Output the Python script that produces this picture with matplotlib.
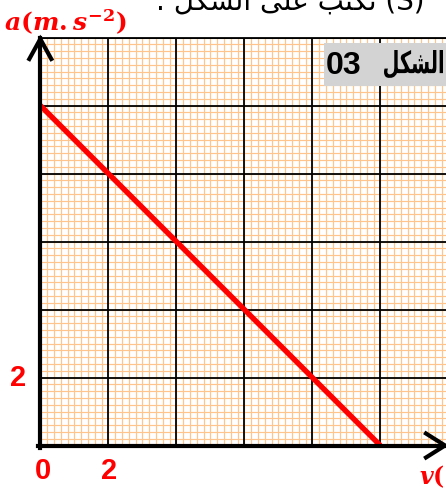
import matplotlib
matplotlib.use("Agg")
import matplotlib.pyplot as plt
import numpy as np
from matplotlib.lines import Line2D
from matplotlib.patches import Rectangle, PathPatch
from matplotlib.textpath import TextPath
from matplotlib.font_manager import FontProperties
from matplotlib.transforms import Affine2D, IdentityTransform

# data: acceleration as a function of speed
v_values = [0, 10]
a_values = [10, 0]
x_tick_values = [0, 2]
x_tick_labels = ["0", "2"]
y_tick_values = [2]
y_tick_labels = ["2"]

W, H = 446, 497
fig = plt.figure(figsize=(W / 100, H / 100), dpi=100)
fig.patch.set_facecolor("white")

plt.rcParams["mathtext.fontset"] = "custom"
plt.rcParams["mathtext.it"] = "DejaVu Serif:italic:bold"
plt.rcParams["mathtext.rm"] = "DejaVu Serif:bold"


def px(x, y):
    """pixel position (from top-left) -> figure fraction"""
    return x / W, 1 - y / H


ox, oy = 40.3, 445.5      # origin in pixels
unit = 34.0               # pixels per unit
xmax = (W - ox) / unit
ymax = 12

ax = fig.add_axes([ox / W, (H - oy) / H, (W - ox) / W, ymax * unit / H])
ax.set_xlim(0, xmax)
ax.set_ylim(0, ymax)

# millimetre paper grid
minor = np.arange(0, 14, 0.2)
for m in minor:
    ax.axvline(m, color="#FFC48C", lw=0.85, zorder=1)
    ax.axhline(m, color="#FFC48C", lw=0.85, zorder=1)
for M in np.arange(2, 14, 2):
    ax.axvline(M, color="black", lw=1.3, zorder=2)
    ax.axhline(M, color="black", lw=1.3, zorder=2)

ax.set_xticks([])
ax.set_yticks([])
for s in ["left", "bottom", "right"]:
    ax.spines[s].set_visible(False)
ax.spines["top"].set_linewidth(1.3)

# the line a(v)
ax.plot(v_values, a_values, color="#FF0000", lw=3.9, solid_capstyle="butt",
        zorder=6, clip_on=False)

# axes with arrow heads
lw_axis = 3.0
fig.add_artist(Line2D(*zip(px(ox, oy + 2), px(ox, 38)), color="black", lw=lw_axis, zorder=5))
fig.add_artist(Line2D(*zip(px(ox - 2, oy), px(W, oy)), color="black", lw=lw_axis, zorder=5))
ya = [px(ox - 11, 59), px(ox, 39), px(ox + 11, 59)]
fig.add_artist(Line2D([p[0] for p in ya], [p[1] for p in ya], color="black", lw=lw_axis,
                      solid_joinstyle="miter", zorder=5))
xa = [px(426, oy - 12), px(445, oy), px(426, oy + 12)]
fig.add_artist(Line2D([p[0] for p in xa], [p[1] for p in xa], color="black", lw=lw_axis,
                      solid_joinstyle="miter", zorder=5))

# tick labels
lab = dict(color="#FF0000", fontsize=21, fontweight="bold", family="Liberation Sans",
           ha="center", va="center")
for val, t in zip(x_tick_values, x_tick_labels):
    xpix = ox + val * unit + (3 if val == 0 else 1)
    fig.text(*px(xpix, 471), t, **lab)
for val, t in zip(y_tick_values, y_tick_labels):
    fig.text(*px(18, oy - val * unit), t, **lab)

# axis titles
fig.text(*px(4, 31), r"$a(m.s^{-2})$", color="#FF0000", fontsize=18, ha="left", va="baseline")
fig.text(*px(419, 484), r"$v($", color="#FF0000", fontsize=17, ha="left", va="baseline")

# figure tag
fig.add_artist(Rectangle(px(324, 86), (W - 324) / W, 43 / H, transform=fig.transFigure,
                         facecolor="#D3D3D3", edgecolor="none", zorder=7))
fig.text(*px(326, 66), "03", fontsize=23, fontweight="bold", family="Liberation Sans",
         ha="left", va="center", zorder=8)

# Arabic word drawn as an outline fitted to its box (pixels from top-left)
word = "\uFEDE\uFEDC\uFEB8\uFEDF\uFE8D"
tp = TextPath((0, 0), word, size=20, prop=FontProperties(family="DejaVu Sans", weight="bold"))
ext = tp.get_extents()
x0, x1, y_top, y_bot = 384, 443, 50, 78
sx = (x1 - x0) / ext.width
sy = (y_bot - y_top) / ext.height
tr = Affine2D().translate(-ext.x0, -ext.y0).scale(sx, sy).translate(x0, H - y_bot)
fig.add_artist(PathPatch(tr.transform_path(tp), transform=IdentityTransform(),
                         facecolor="black", edgecolor="none", zorder=8))

# line of text above the chart
head = ". " + "\uFEDE\uFEDC\uFEB8\uFEDF\uFE8D" + " " + "\uFEF0\uFEE0\uFECB" + " " + \
       "\uFE90\uFE98\uFEDC\uFE97" + " (S)"
fig.text(*px(290, 10), head, fontsize=20, family="DejaVu Sans", ha="center", va="baseline")

fig.savefig("out.png", dpi=100)
